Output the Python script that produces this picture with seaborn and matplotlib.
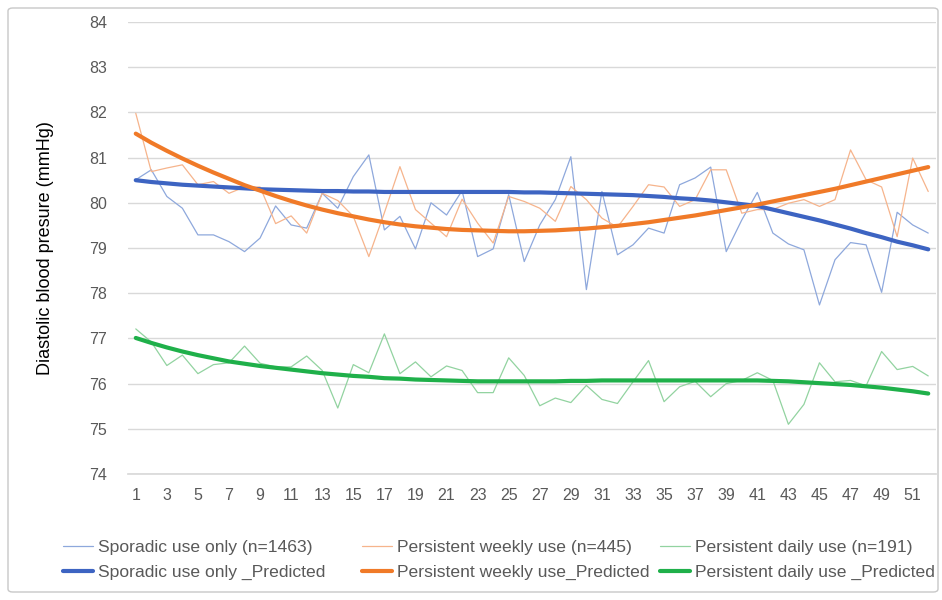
import matplotlib
matplotlib.use("Agg")
import matplotlib.pyplot as plt
from matplotlib.patches import FancyBboxPatch
import numpy as np
import pandas as pd
import seaborn as sns

weeks = list(range(1, 53))

sporadic = [80.51, 80.73, 80.14, 79.88, 79.29, 79.29, 79.14, 78.92, 79.22, 79.93,
            79.51, 79.44, 80.21, 79.88, 80.58, 81.06, 79.40, 79.70, 78.98, 80.00,
            79.73, 80.27, 78.81, 78.98, 80.18, 78.70, 79.51, 80.07, 81.02, 78.08,
            80.25, 78.85, 79.07, 79.44, 79.33, 80.40, 80.55, 80.79, 78.92, 79.62,
            80.23, 79.33, 79.09, 78.96, 77.74, 78.74, 79.12, 79.07, 78.02, 79.79,
            79.51, 79.33]
weekly = [81.98, 80.69, 80.77, 80.84, 80.40, 80.47, 80.21, 80.35, 80.35, 79.54,
          79.71, 79.33, 80.21, 80.05, 79.70, 78.81, 79.78, 80.80, 79.85, 79.55,
          79.25, 80.08, 79.55, 79.11, 80.14, 80.03, 79.88, 79.59, 80.36, 80.07,
          79.66, 79.46, 79.92, 80.40, 80.35, 79.92, 80.07, 80.73, 80.73, 79.77,
          79.85, 79.85, 79.99, 80.07, 79.92, 80.07, 81.17, 80.51, 80.35, 79.25,
          80.99, 80.25]
daily = [77.21, 76.92, 76.40, 76.63, 76.22, 76.42, 76.46, 76.83, 76.45, 76.37,
         76.37, 76.61, 76.29, 75.46, 76.42, 76.24, 77.10, 76.22, 76.48, 76.15,
         76.39, 76.29, 75.80, 75.80, 76.57, 76.18, 75.51, 75.68, 75.58, 75.96,
         75.65, 75.56, 76.04, 76.51, 75.60, 75.93, 76.05, 75.71, 76.00, 76.07,
         76.24, 76.07, 75.10, 75.54, 76.46, 76.04, 76.07, 75.95, 76.71, 76.31,
         76.38, 76.17]

sporadic_pred = [80.50, 80.46, 80.43, 80.40, 80.38, 80.36, 80.34, 80.32, 80.30, 80.29,
                 80.28, 80.27, 80.26, 80.26, 80.25, 80.25, 80.24, 80.24, 80.24, 80.24,
                 80.24, 80.24, 80.24, 80.24, 80.24, 80.23, 80.23, 80.22, 80.21, 80.20,
                 80.19, 80.18, 80.17, 80.15, 80.13, 80.10, 80.08, 80.05, 80.01, 79.97,
                 79.93, 79.85, 79.77, 79.69, 79.61, 79.52, 79.43, 79.33, 79.24, 79.14,
                 79.06, 78.97]
weekly_pred = [81.53, 81.33, 81.15, 80.98, 80.82, 80.67, 80.53, 80.39, 80.27, 80.15,
               80.04, 79.94, 79.85, 79.77, 79.70, 79.63, 79.57, 79.52, 79.48, 79.45,
               79.42, 79.40, 79.39, 79.38, 79.37, 79.37, 79.38, 79.39, 79.41, 79.43,
               79.46, 79.49, 79.53, 79.57, 79.62, 79.67, 79.72, 79.78, 79.84, 79.90,
               79.96, 80.03, 80.10, 80.17, 80.24, 80.31, 80.39, 80.47, 80.55, 80.63,
               80.71, 80.79]
daily_pred = [77.01, 76.90, 76.80, 76.71, 76.63, 76.56, 76.49, 76.44, 76.39, 76.35,
              76.31, 76.27, 76.23, 76.20, 76.17, 76.15, 76.12, 76.11, 76.09, 76.08,
              76.07, 76.06, 76.05, 76.05, 76.05, 76.05, 76.05, 76.05, 76.06, 76.06,
              76.07, 76.07, 76.07, 76.07, 76.07, 76.07, 76.07, 76.07, 76.07, 76.07,
              76.07, 76.06, 76.05, 76.03, 76.01, 75.99, 75.97, 75.94, 75.91, 75.87,
              75.83, 75.78]

series = [
    ("Sporadic use only (n=1463)", sporadic, "#8ea8dc", 0.9),
    ("Persistent weekly use (n=445)", weekly, "#f6b48c", 0.9),
    ("Persistent daily use (n=191)", daily, "#92d3a0", 0.9),
    ("Sporadic use only _Predicted", sporadic_pred, "#3d64c2", 3.0),
    ("Persistent weekly use_Predicted", weekly_pred, "#f07a28", 3.0),
    ("Persistent daily use _Predicted", daily_pred, "#1fb04a", 3.0),
]

sns.set_theme(style="white")
plt.rcParams["font.family"] = ["Liberation Sans", "DejaVu Sans"]

fig = plt.figure(figsize=(9.42, 6), dpi=100)
ax = fig.add_axes([128 / 942, 1 - 474 / 600, (936 - 128) / 942, (474 - 22) / 600])

handles = {}
for label, values, color, lw in series:
    df = pd.DataFrame({"week": weeks, "value": values})
    sns.lineplot(data=df, x="week", y="value", ax=ax, color=color, lw=lw,
                 label=label, legend=False)
    handles[label] = ax.lines[-1]

ax.set_xlim(0.5, 52.5)
ax.set_ylim(74, 84)
ax.set_yticks(np.arange(74, 85, 1))
ax.set_xticks(weeks[::2])
ax.grid(axis="y", color="#d9d9d9", lw=1)
ax.grid(axis="x", visible=False)
for s in ["left", "right", "top"]:
    ax.spines[s].set_visible(False)
ax.spines["bottom"].set_color("#d9d9d9")
ax.tick_params(axis="both", length=0, labelsize=11.5, labelcolor="#595959")
ax.tick_params(axis="x", pad=10)
ax.tick_params(axis="y", pad=15)
ax.set_xlabel("")
ax.set_ylabel("Diastolic blood presure (mmHg)", fontsize=13, color="#000000")
ax.yaxis.set_label_coords(-0.092, 0.5)

# legend: three columns, two rows
cols = [
    (63, ["Sporadic use only (n=1463)", "Sporadic use only _Predicted"]),
    (362, ["Persistent weekly use (n=445)", "Persistent weekly use_Predicted"]),
    (660, ["Persistent daily use (n=191)", "Persistent daily use _Predicted"]),
]
for x0, labels in cols:
    leg = fig.legend([handles[l] for l in labels], labels, loc="upper left",
                     bbox_to_anchor=(x0 / 942, 1 - 540 / 600), frameon=False,
                     borderpad=0, borderaxespad=0, handlelength=1.7, handletextpad=0.3,
                     labelspacing=0.55, prop={"size": 12.6})
    for t in leg.get_texts():
        t.set_color("#595959")

# chart area border
fig.patches.append(FancyBboxPatch((8 / 942, 8 / 600), 930 / 942, 584 / 600,
                                  boxstyle="round,pad=0,rounding_size=0.005",
                                  transform=fig.transFigure, fill=False,
                                  edgecolor="#c8c8c8", lw=1))

fig.savefig("out.png", dpi=100)
